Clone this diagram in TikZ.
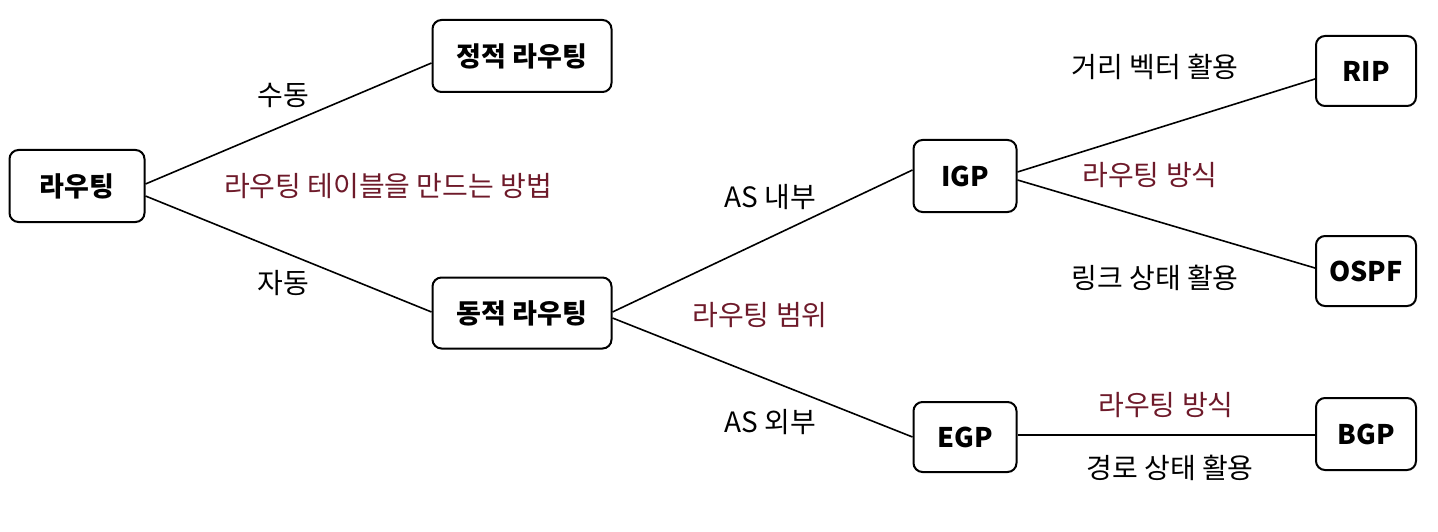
\documentclass[tikz,border=0pt]{standalone}
\usepackage{fontspec}
\setmainfont{Noto Sans CJK KR}
\definecolor{wine}{HTML}{6E1A2A}
\begin{document}
\begin{tikzpicture}[x=1pt,y=-1pt,
  box/.style={draw=black,line width=2pt,rounded corners=9pt,inner sep=0pt,font=\fontsize{27}{29}\selectfont\bfseries},
  lbl/.style={font=\fontsize{28}{30}\selectfont,inner sep=0pt,anchor=center},
  red/.style={lbl,text=wine},
  edge/.style={line width=1.6pt,black}]
\useasboundingbox (0,0) rectangle (1438,532);
% boxes
\node[box,minimum width=135pt,minimum height=72pt] (r) at (77,186) {라우팅};
\node[box,minimum width=179pt,minimum height=72pt] (s) at (522,56) {정적 라우팅};
\node[box,minimum width=179pt,minimum height=71pt] (d) at (522,313) {동적 라우팅};
\node[box,minimum width=103pt,minimum height=72pt] (igp) at (965,176) {IGP};
\node[box,minimum width=103pt,minimum height=70pt] (egp) at (965,437) {EGP};
\node[box,minimum width=100pt,minimum height=70pt] (rip) at (1366,71) {RIP};
\node[box,minimum width=100pt,minimum height=70pt] (ospf) at (1366,271) {OSPF};
\node[box,minimum width=100pt,minimum height=72pt] (bgp) at (1366,434) {BGP};
% edges
\draw[edge] ([yshift=2pt]r.east) -- ([yshift=-7pt]s.west);
\draw[edge] ([yshift=-10pt]r.east) -- ([yshift=1pt]d.west);
\draw[edge] ([yshift=1pt]d.east) -- ([yshift=6pt]igp.west);
\draw[edge] ([yshift=-5pt]d.east) -- (egp.west);
\draw[edge] ([yshift=4pt]igp.east) -- ([yshift=-8pt]rip.west);
\draw[edge] ([yshift=-4pt]igp.east) -- ([yshift=3pt]ospf.west);
\draw[edge] ([yshift=2pt]egp.east) -- ([yshift=-1pt]bgp.west);
% labels
\node[lbl] (l1) at (283,95) {수동};
\node[lbl] (l2) at (283,283) {자동};
\node[red] (l3) at (388,186) {라우팅 테이블을 만드는 방법};
\node[lbl] (l4) at (770,197) {AS 내부};
\node[lbl] (l5) at (770,422) {AS 외부};
\node[red] (l6) at (760,315) {라우팅 범위};
\node[lbl] (l7) at (1155,67) {거리 벡터 활용};
\node[red] (l8) at (1150,175) {라우팅 방식};
\node[lbl] (l9) at (1155,278) {링크 상태 활용};
\node[red] (l10) at (1166,405) {라우팅 방식};
\node[lbl] (l11) at (1170,468) {경로 상태 활용};
\end{tikzpicture}
\end{document}
